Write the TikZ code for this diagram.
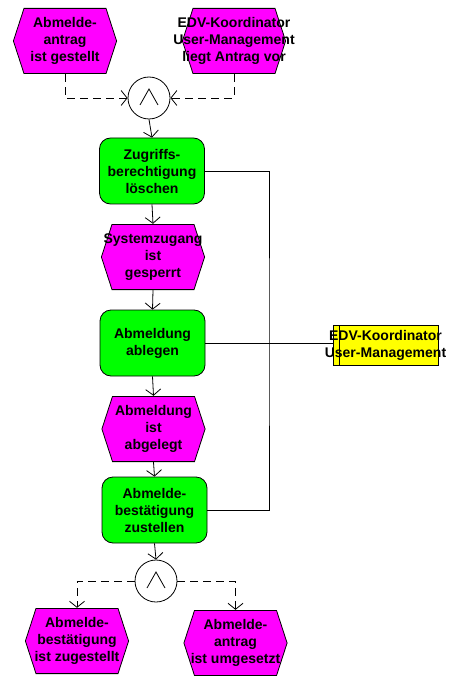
\documentclass[tikz,border=0pt]{standalone}
\usepackage{fontspec}
\setmainfont{Liberation Sans}
\usetikzlibrary{arrows.meta}
\definecolor{evmag}{RGB}{255,0,255}
\definecolor{fngreen}{RGB}{0,255,0}
\definecolor{orgyellow}{RGB}{255,255,0}
\tikzset{
  every node/.style={font=\bfseries\fontsize{14pt}{17pt}\selectfont, align=center},
  event/.style={rectangle, minimum width=104pt, minimum height=66pt,
    inner xsep=-20pt, inner ysep=0pt,
    path picture={\draw[fill=evmag, line width=0.8pt]
      ([xshift=0.4pt]path picture bounding box.west)
      -- ([xshift=11pt,yshift=-0.4pt]path picture bounding box.north west)
      -- ([xshift=-11pt,yshift=-0.4pt]path picture bounding box.north east)
      -- ([xshift=-0.4pt]path picture bounding box.east)
      -- ([xshift=-11pt,yshift=0.4pt]path picture bounding box.south east)
      -- ([xshift=11pt,yshift=0.4pt]path picture bounding box.south west)
      -- cycle;}},
  function/.style={rectangle, rounded corners=11pt, draw, line width=0.8pt, fill=fngreen,
    minimum width=105pt, minimum height=66pt, inner xsep=-20pt, inner ysep=0pt},
  orgunit/.style={rectangle, draw, line width=0.8pt, fill=orgyellow,
    minimum width=105pt, minimum height=40pt, inner xsep=-20pt, inner ysep=0pt,
    path picture={\draw[line width=0.8pt]
      ([xshift=6pt]path picture bounding box.north west) --
      ([xshift=6pt]path picture bounding box.south west);}},
  andop/.style={circle, draw, line width=0.8pt, minimum size=42pt, inner sep=0pt, fill=white,
    path picture={\draw[line width=0.8pt]
      ([xshift=-9pt,yshift=-7pt]path picture bounding box.center)
      -- ([yshift=9pt]path picture bounding box.center)
      -- ([xshift=9pt,yshift=-7pt]path picture bounding box.center);}},
  flow/.style={line width=0.8pt, -{Straight Barb[length=6pt,width=15pt]}},
  cond/.style={flow, dash pattern=on 8pt off 5pt},
  assign/.style={line width=0.8pt},
}
\begin{document}
\begin{tikzpicture}[x=1pt, y=-1pt]
  \useasboundingbox (0,0) rectangle (452,676);

  % start events and the joining AND operator
  \node[event] (req)  at (65,41)  {Abmelde-\\antrag\\ist gestellt};
  \node[event] (ready) at (234,41) {EDV-Koordinator\\User-Management\\liegt Antrag vor};
  \node[andop] (and1) at (149,98) {};

  % process chain
  \node[function] (revoke) at (152,171) {Zugriffs-\\berechtigung\\löschen};
  \node[event]    (locked) at (153,257) {Systemzugang\\ist\\gesperrt};
  \node[function] (file)   at (152.5,343) {Abmeldung\\ablegen};
  \node[event]    (filed)  at (153.5,429) {Abmeldung\\ist\\abgelegt};
  \node[function] (confirm) at (154.5,510) {Abmelde-\\bestätigung\\zustellen};
  \node[andop]    (and2)   at (156,581) {};

  % end events
  \node[event] (sent) at (77,641) {Abmelde-\\bestätigung\\ist zugestellt};
  \node[event] (done) at (235.5,643) {Abmelde-\\antrag\\ist umgesetzt};

  % organisational unit
  \node[orgunit] (org) at (385.5,345) {EDV-Koordinator\\User-Management};
  \coordinate (bus) at (269,343);

  % control flow
  \draw[cond] (req.south) |- (and1.west);
  \draw[cond] (ready.south) |- (and1.east);
  \draw[flow] (and1.south) -- (revoke.north);
  \draw[flow] (revoke.south) -- (locked.north);
  \draw[flow] (locked.south) -- (file.north);
  \draw[flow] (file.south) -- (filed.north);
  \draw[flow] (filed.south) -- (confirm.north);
  \draw[flow] (confirm.south) -- (and2.north);
  \draw[cond] (and2.west) -| (sent.north);
  \draw[cond] (and2.east) -| (done.north);

  % assignment of the organisational unit
  \draw[assign] (revoke.east) -| (bus) |- (confirm.east);
  \draw[assign] (file.east) -- (file.east -| org.west);
\end{tikzpicture}
\end{document}
